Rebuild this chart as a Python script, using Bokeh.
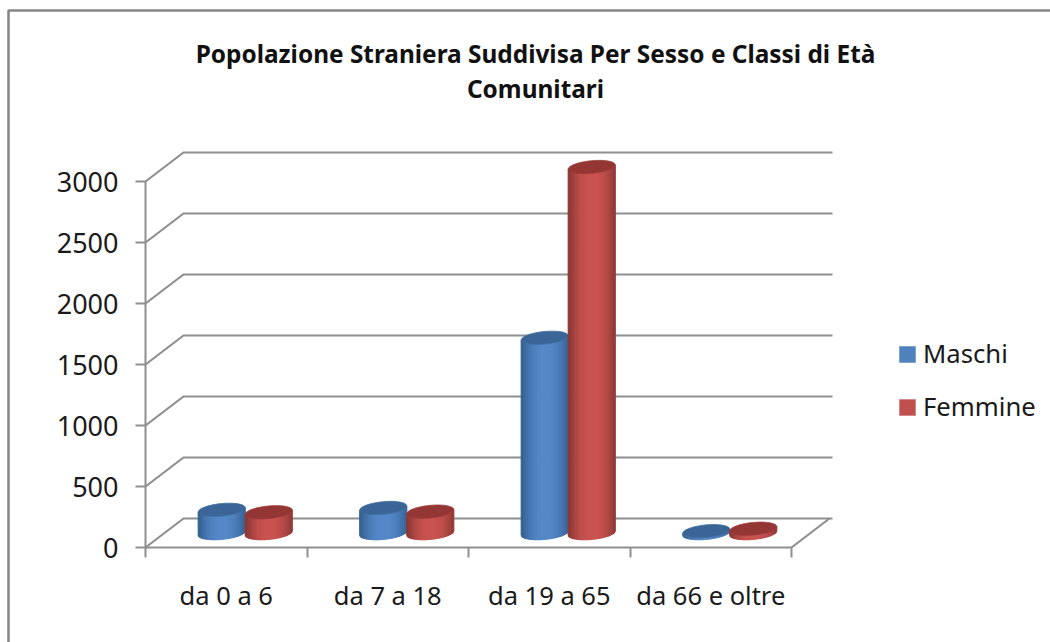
from bokeh.plotting import figure
from bokeh.embed import file_html
from bokeh.resources import INLINE
from bokeh.models import FixedTicker, Legend, LegendItem, Label, BoxAnnotation, Range1d
import math

title_lines = ["Popolazione Straniera Suddivisa Per Sesso e Classi di Età", "Comunitari"]
categories = ["da 0 a 6", "da 7 a 18", "da 19 a 65", "da 66 e oltre"]
maschi = [190, 205, 1600, 15]
femmine = [170, 175, 3000, 35]
y_ticks = [0, 500, 1000, 1500, 2000, 2500, 3000]

FONT = "Noto Sans"
TXT = "#1a1a1a"
GRID = "#8f8f8f"
nan = float("nan")

W, H = 1050, 642
OX, OY = 145, 547                         # page pixel of the chart origin
px_y = 366 / 3000                         # px per value unit
px_x = 646 / 4                            # px per category
DX, DY = 38, 29                           # depth of the 3D box in px
ux, uy = DX / px_x, DY / px_y
back_right = (832 - OX) / px_x

p = figure(width=W, height=H, output_backend="svg", toolbar_location=None,
           x_range=Range1d(-OX / px_x, (W - OX) / px_x), y_range=Range1d(-(H - OY) / px_y, OY / px_y),
           min_border_left=0, min_border_right=0, min_border_top=0, min_border_bottom=0,
           frame_width=W, frame_height=H, x_axis_type="linear")
p.outline_line_color = None
p.xgrid.visible = False
p.ygrid.visible = False
p.background_fill_color = "white"

# axes
xa, ya = p.xaxis[0], p.yaxis[0]
xa.fixed_location = 0
ya.fixed_location = 0
xa.ticker = FixedTicker(ticks=[i + 0.5 for i in range(4)], minor_ticks=list(range(5)))
xa.major_label_overrides = {i + 0.5: c for i, c in enumerate(categories)}
xa.major_tick_out = 0
xa.major_tick_in = 0
xa.minor_tick_out = 10
xa.minor_tick_in = 0
xa.minor_tick_line_color = GRID
xa.minor_tick_line_width = 2
xa.axis_line_color = GRID
xa.axis_line_width = 2
xa.major_label_text_font = FONT
xa.major_label_text_font_size = "25.5px"
xa.major_label_text_color = TXT
xa.major_label_standoff = 20
xa.bounds = (0, 4)

ya.ticker = FixedTicker(ticks=y_ticks)
ya.bounds = (0, 3000)
ya.major_tick_out = 10
ya.major_tick_in = 0
ya.minor_tick_out = 0
ya.minor_tick_in = 0
ya.major_tick_line_color = GRID
ya.major_tick_line_width = 2
ya.axis_line_color = GRID
ya.axis_line_width = 2
ya.major_label_text_font = FONT
ya.major_label_text_font_size = "27px"
ya.major_label_text_color = TXT
ya.major_label_standoff = 17

# 3D box: gridlines on side and back walls, plus floor edge
xs = [[0, ux, back_right] for _ in y_ticks]
ys = [[v, v + uy, v + uy] for v in y_ticks]
xs.append([4, 4 + ux])
ys.append([0, uy])
p.multi_line(xs, ys, line_color=GRID, line_width=2.2)

# cylinders
A, B, K = 23.5, 6.3, 0.09   # semi-axes and tilt in px
N = 26


def mix(c1, c2, t):
    return "#%02x%02x%02x" % tuple(round(a + (b - a) * t) for a, b in zip(c1, c2))


def cylinder(xc, v, dark, light, top, rim):
    base = uy / 2
    top_y = base + v
    sx, sy, cols = [], [], []
    for i in range(N):
        a0, a1 = -A + 2 * A * i / N, -A + 2 * A * (i + 1) / N
        res = 4
        pts = [a0 + (a1 - a0) * j / res for j in range(res + 1)]
        low = [base + (K * a - B * math.sqrt(max(0, 1 - (a / A) ** 2))) / px_y for a in pts]
        up = [top_y + (K * a - B * math.sqrt(max(0, 1 - (a / A) ** 2))) / px_y for a in pts]
        sx.append([xc + a / px_x for a in pts] + [xc + a / px_x for a in reversed(pts)])
        sy.append(low + list(reversed(up)))
        m = (a0 + a1) / 2 / A
        t = max(0, 1 - abs(m - 0.05) ** 2.2 * 1.05)
        cols.append(mix(dark, light, t))
    p.patches(sx, sy, fill_color=cols, line_color=cols, line_width=1.2)
    angs = [2 * math.pi * k / 48 for k in range(48)]
    ex = [xc + A * math.cos(q) / px_x for q in angs]
    ey = [top_y + (B * math.sin(q) + K * A * math.cos(q)) / px_y for q in angs]
    p.patch(ex, ey, fill_color=top, line_color=rim, line_width=0.8)


BLUE = ((0x36, 0x60, 0x92), (0x55, 0x88, 0xc8), "#3a6596", "#3f6e9f")
RED = ((0x8a, 0x38, 0x36), (0xca, 0x53, 0x50), "#943634", "#9a3a38")
half = A / px_x
for i in range(4):
    xc = i + 0.5 + ux / 2
    cylinder(xc - half, maschi[i], *BLUE)
    cylinder(xc + half, femmine[i], *RED)

# legend
r1 = p.quad(left=[nan], right=[nan], top=[nan], bottom=[nan], fill_color="#4f81bd", line_color="#7fa3cf")
r2 = p.quad(left=[nan], right=[nan], top=[nan], bottom=[nan], fill_color="#c0504d", line_color="#d08a88")
legend = Legend(items=[LegendItem(label="Maschi", renderers=[r1], index=0),
                       LegendItem(label="Femmine", renderers=[r2], index=0)],
                location=(897, 218), orientation="vertical", glyph_width=20, glyph_height=20,
                spacing=18, label_text_font=FONT, label_text_font_size="25.7px", label_text_color=TXT,
                border_line_color=None, background_fill_alpha=0, padding=0, margin=0, label_standoff=6)
p.add_layout(legend, "center")

# title
for line, ty in zip(title_lines, [53, 88]):
    p.add_layout(Label(x=(535 - OX) / px_x, y=(OY - ty) / px_y, text=line,
                       text_align="center", text_baseline="middle",
                       text_font=FONT, text_font_style="bold", text_font_size="24.4px", text_color="#111111"))

# chart border (screen units are measured from the frame's lower left corner)
p.add_layout(BoxAnnotation(left=8, right=W + 20, top=H - 10, bottom=-20, left_units="screen",
                           right_units="screen", top_units="screen", bottom_units="screen", fill_alpha=0,
                           line_color="#868686", line_alpha=1, line_width=2.5, level="overlay"))

open("out.html", "w").write(file_html(p, INLINE))
